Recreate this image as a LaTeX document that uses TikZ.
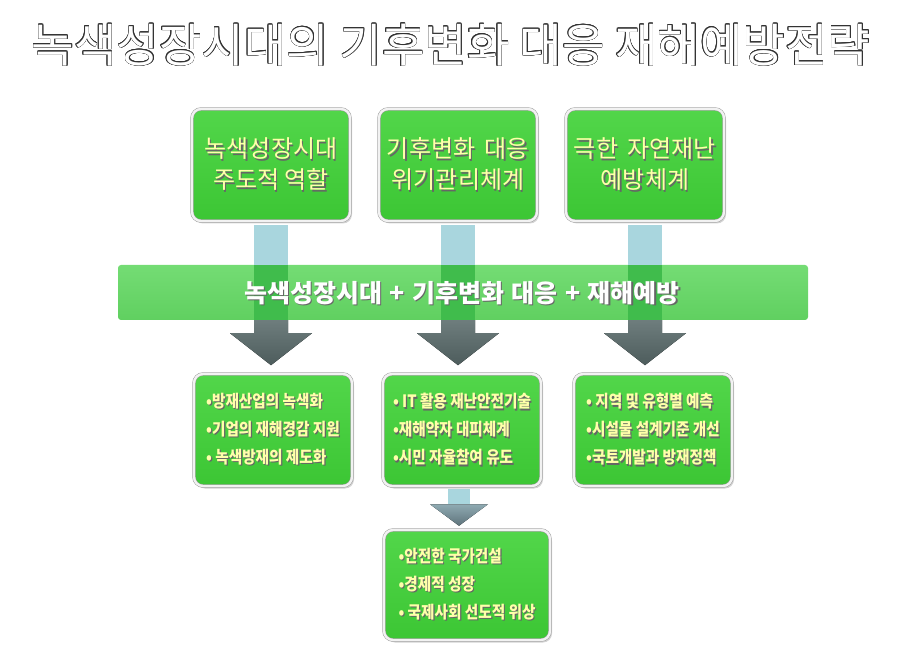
\documentclass[tikz,border=0pt]{standalone}
\usepackage{fontspec}
\setmainfont{Noto Sans CJK KR}
\newfontfamily\krcond[FakeStretch=0.86]{Noto Sans CJK KR}
\usepackage{contour}
\contourlength{0.45pt}
\usetikzlibrary{shadows,calc}
\definecolor{boxtop}{HTML}{52D64A}
\definecolor{boxbot}{HTML}{3CC634}
\definecolor{bantop}{HTML}{74DC74}
\definecolor{banbot}{HTML}{60D060}
\definecolor{barblue}{HTML}{A9D6DE}
\definecolor{stripe}{HTML}{40BC4C}
\definecolor{argtop}{HTML}{6E7D7D}
\definecolor{argbot}{HTML}{4D5C5C}
\definecolor{smtop}{HTML}{8FAAB2}
\definecolor{smbot}{HTML}{5E737B}
\definecolor{txty}{HTML}{FFFFAA}
\newcommand\shl[1]{\leavevmode\rlap{\kern1.2pt\raisebox{-1.2pt}{\textcolor{black!60}{#1}}}#1}
\newcommand\wsp[1]{\spaceskip=#1\relax}
\tikzset{
  gbox/.style={rounded corners=9pt, draw=gray!75, double=gray!10, double distance=2.4pt, line width=0.5pt,
    top color=boxtop, bottom color=boxbot,
    drop shadow={shadow xshift=2pt, shadow yshift=-2.5pt, opacity=0.35},
    text=txty, inner sep=4pt},
  topbox/.style={gbox, minimum width=158pt, minimum height=112pt, align=center,
    font=\fontsize{24}{31}\selectfont},
  botbox/.style={gbox, minimum width=158pt, minimum height=112pt, align=left,
    font=\krcond\bfseries\fontsize{17}{28}\selectfont},
  banner/.style={rounded corners=3pt, top color=bantop, bottom color=banbot,
    minimum width=690pt, minimum height=55pt},
  bigarrow/.style={top color=argtop, bottom color=argbot},
  smallarrow/.style={top color=smtop, bottom color=smbot}
}
\begin{document}
\begin{tikzpicture}[x=1pt,y=-1pt]
\useasboundingbox (0,0) rectangle (903,655);
% title
\node (title) at (451,45) {\scalebox{1.1}[1.1]{\fontsize{42}{48}\selectfont\contour{black!80}{\textcolor{white}{녹색성장시대의 기후변화 대응 재해예방전략}}}};
% top boxes
\node[topbox] (t1) at (271,165) {\wsp{0.4em}\shl{녹색성장시대}\\\shl{주도적 역할}};
\node[topbox] (t2) at (458,165) {\wsp{0.4em}\shl{기후변화 대응}\\\shl{위기관리체계}};
\node[topbox] (t3) at (645,165) {\wsp{0.4em}\shl{극한 자연재난}\\\shl{예방체계}};
% banner
\node[banner] (banner) at (463,292.5) {};
% bars and arrows
\foreach \t in {t1,t2,t3}{
  \fill[barblue] ($(\t.south)+(-17,4)$) rectangle ($(\t.south |- banner.north)+(17,0)$);
  \fill[stripe] ($(\t.south |- banner.north)+(-17,0)$) rectangle ($(\t.south |- banner.south)+(17,0)$);
  \fill[bigarrow] ($(\t.south |- banner.south)+(-17,0)$) -- ($(\t.south |- banner.south)+(17,0)$)
     -- ($(\t.south |- banner.south)+(17,13)$) -- ($(\t.south |- banner.south)+(41,13)$)
     -- ($(\t.south |- banner.south)+(0,45)$) -- ($(\t.south |- banner.south)+(-41,13)$)
     -- ($(\t.south |- banner.south)+(-17,13)$) -- cycle;
}
\node[text=white, font=\bfseries\fontsize{25}{28}\selectfont] (bantext) at (462,294)
  {\wsp{0.3em}\shl{녹색성장시대 + 기후변화 대응 + 재해예방}};
% bottom boxes
\node[botbox] (b1) at (273,430) {\shl{•방재산업의 녹색화}\\\shl{•기업의 재해경감 지원}\\\shl{• 녹색방재의 제도화}};
\node[botbox] (b2) at (462,430) {\shl{• IT 활용 재난안전기술}\\\shl{•재해약자 대피체계}\\\shl{•시민 자율참여 유도}};
\node[botbox] (b3) at (653,430) {\shl{• 지역 및 유형별 예측}\\\shl{•시설물 설계기준 개선}\\\shl{•국토개발과 방재정책}};
% final box
\node[botbox, minimum width=166pt, minimum height=110pt] (d) at (467,585) {\shl{•안전한 국가건설}\\\shl{•경제적 성장}\\\shl{• 국제사회 선도적 위상}};
% small arrow
\coordinate (sa) at ($(b2.south)+(-3,0)$);
\fill[barblue] ($(sa)+(-11,3)$) rectangle ($(sa)+(11,18)$);
\fill[smallarrow] ($(sa)+(-29,18)$) -- ($(sa)+(29,18)$) -- ($(d.north)+(-8,-4)$) -- cycle;
\end{tikzpicture}
\end{document}
